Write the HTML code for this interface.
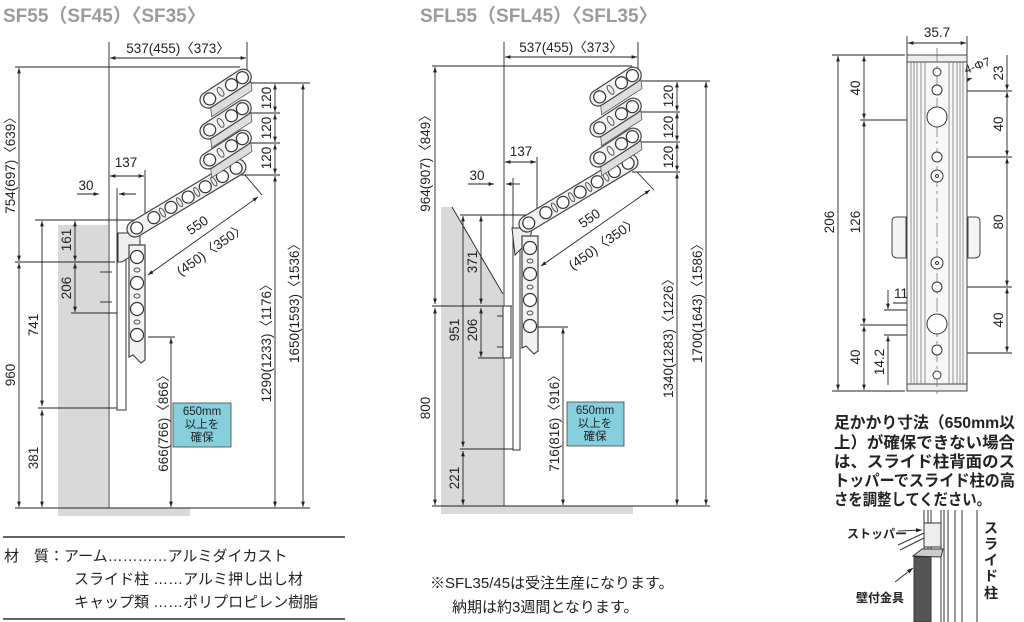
<!DOCTYPE html>
<html><head><meta charset="utf-8"><style>
html,body{margin:0;padding:0;background:#fff;}
svg{display:block;}
text{font-family:"Liberation Sans","Noto Sans CJK JP",sans-serif;fill:#222;}
.t{font-size:13.5px;}
</style></head><body>
<svg width="1024" height="622" viewBox="0 0 1024 622" xmlns="http://www.w3.org/2000/svg">
<defs>
<marker id="a" viewBox="0 0 10 10" refX="10" refY="5" markerWidth="6" markerHeight="6" orient="auto-start-reverse"><path d="M0,1.5 L10,5 L0,8.5z" fill="#222"/></marker>
<g id="rk">
  <path d="M-2,8 L-6,16 L42,16 L46,8z" fill="#ddd" stroke="#555" stroke-width="0.8"/>
  <rect x="-8" y="-8" width="58" height="16" rx="8" fill="#f2f2f2" stroke="#444" stroke-width="1.2"/>
  <circle cx="2" cy="0" r="6" fill="#fff" stroke="#333" stroke-width="1.2"/>
  <ellipse cx="15" cy="0" rx="2.5" ry="5" fill="none" stroke="#555"/>
  <circle cx="28" cy="0" r="6" fill="#fff" stroke="#333" stroke-width="1.2"/>
  <circle cx="41" cy="0" r="6" fill="#fff" stroke="#333" stroke-width="1.2"/>
</g>
<g id="arm">
  <rect x="-8" y="-8" width="136" height="16" rx="8" fill="#f2f2f2" stroke="#444" stroke-width="1.2"/>
  <circle cx="2" cy="0" r="6" fill="#fff" stroke="#333" stroke-width="1.2"/>
  <circle cx="22" cy="0" r="6" fill="#fff" stroke="#333" stroke-width="1.2"/>
  <ellipse cx="32" cy="0" rx="2" ry="5" fill="none" stroke="#555"/>
  <circle cx="42" cy="0" r="6" fill="#fff" stroke="#333" stroke-width="1.2"/>
  <ellipse cx="52" cy="0" rx="2" ry="5" fill="none" stroke="#555"/>
  <circle cx="62" cy="0" r="6" fill="#fff" stroke="#333" stroke-width="1.2"/>
  <ellipse cx="72" cy="0" rx="2" ry="5" fill="none" stroke="#555"/>
  <circle cx="82" cy="0" r="6" fill="#fff" stroke="#333" stroke-width="1.2"/>
  <ellipse cx="92" cy="0" rx="2" ry="5" fill="none" stroke="#555"/>
  <circle cx="102" cy="0" r="6" fill="#fff" stroke="#333" stroke-width="1.2"/>
  <circle cx="118" cy="0" r="6" fill="#fff" stroke="#333" stroke-width="1.2"/>
</g>
<g id="hang">
  <path d="M-8,0 L8,0 L8,115 L4,118 L-4,110 L-8,112z" fill="#f2f2f2" stroke="#444" stroke-width="1.2"/>
  <circle cx="0" cy="12" r="6.5" fill="#fff" stroke="#333" stroke-width="1.2"/>
  <circle cx="0" cy="38" r="6.5" fill="#fff" stroke="#333" stroke-width="1.2"/>
  <circle cx="0" cy="64" r="6.5" fill="#fff" stroke="#333" stroke-width="1.2"/>
  <circle cx="0" cy="90" r="6.5" fill="#fff" stroke="#333" stroke-width="1.2"/>
  <ellipse cx="0" cy="25" rx="3" ry="2" fill="none" stroke="#555"/>
  <ellipse cx="0" cy="51" rx="3" ry="2" fill="none" stroke="#555"/>
  <ellipse cx="0" cy="77" rx="3" ry="2" fill="none" stroke="#555"/>
</g>
</defs>

<!-- ============ LEFT: SF ============ -->
<text x="3" y="22" style="font-size:19px;font-weight:bold;fill:#9a9a9a">SF55（SF45）〈SF35〉</text>
<rect x="58" y="225" width="50" height="283" fill="#d9d9d9"/>
<rect x="58" y="508" width="132" height="8" fill="#d9d9d9"/>
<g stroke="#222" stroke-width="0.9" fill="none">
<line x1="109" y1="42" x2="109" y2="508"/>
<line x1="247" y1="42" x2="247" y2="78"/>
<line x1="110" y1="58" x2="246" y2="58" marker-start="url(#a)" marker-end="url(#a)"/>
<line x1="15" y1="67" x2="240" y2="67"/>
<line x1="19" y1="68" x2="19" y2="261" marker-start="url(#a)" marker-end="url(#a)"/>
<line x1="19" y1="263" x2="19" y2="507" marker-start="url(#a)" marker-end="url(#a)"/>
<line x1="15" y1="262" x2="115" y2="262"/>
<line x1="15" y1="508" x2="310" y2="508"/>
<line x1="35" y1="220" x2="140" y2="220"/>
<line x1="42" y1="221" x2="42" y2="406" marker-start="url(#a)" marker-end="url(#a)"/>
<line x1="42" y1="410" x2="42" y2="507" marker-start="url(#a)" marker-end="url(#a)"/>
<line x1="38" y1="408" x2="126" y2="408"/>
<line x1="75" y1="221" x2="75" y2="261" marker-start="url(#a)" marker-end="url(#a)"/>
<line x1="75" y1="263" x2="75" y2="312" marker-start="url(#a)" marker-end="url(#a)"/>
<line x1="71" y1="313" x2="117" y2="313"/>
<line x1="100" y1="272" x2="112" y2="272"/>
<line x1="100" y1="302" x2="112" y2="302"/>
<line x1="110" y1="176" x2="144" y2="176" marker-start="url(#a)" marker-end="url(#a)"/>
<line x1="145" y1="170" x2="145" y2="225"/>
<line x1="77" y1="194" x2="99" y2="194" marker-end="url(#a)"/>
<line x1="136" y1="194" x2="119" y2="194" marker-end="url(#a)"/>
<line x1="117" y1="188" x2="117" y2="240"/>
<line x1="245" y1="175" x2="262" y2="195"/>
<line x1="148" y1="275" x2="258" y2="197" marker-start="url(#a)" marker-end="url(#a)"/>
<line x1="238" y1="83" x2="310" y2="83"/>
<line x1="240" y1="113" x2="280" y2="113"/>
<line x1="240" y1="143" x2="280" y2="143"/>
<line x1="240" y1="175" x2="280" y2="175"/>
<line x1="275" y1="84" x2="275" y2="112" marker-start="url(#a)" marker-end="url(#a)"/>
<line x1="275" y1="114" x2="275" y2="142" marker-start="url(#a)" marker-end="url(#a)"/>
<line x1="275" y1="144" x2="275" y2="174" marker-start="url(#a)" marker-end="url(#a)"/>
<line x1="275" y1="176" x2="275" y2="507" marker-start="url(#a)" marker-end="url(#a)"/>
<line x1="303" y1="84" x2="303" y2="507" marker-start="url(#a)" marker-end="url(#a)"/>
<line x1="148" y1="337" x2="175" y2="337"/>
<line x1="171" y1="338" x2="171" y2="507" marker-start="url(#a)" marker-end="url(#a)"/>
</g>
<rect x="117" y="233" width="9" height="177" fill="#fff" stroke="#333" stroke-width="1"/>
<path d="M118,233 L140,233 L140,250 L122,262 L118,262z" fill="#eee" stroke="#333"/>
<use href="#hang" x="137" y="245"/>
<use href="#arm" transform="translate(135,229) rotate(-31)"/>
<use href="#rk" transform="translate(208,100) rotate(-33)"/>
<use href="#rk" transform="translate(208,131) rotate(-33)"/>
<use href="#rk" transform="translate(208,161) rotate(-33)"/>
<text class="t" x="178" y="53" text-anchor="middle">537(455)〈373〉</text>
<text class="t" x="126" y="167" text-anchor="middle">137</text>
<text class="t" x="86" y="190" text-anchor="middle">30</text>
<g class="t">
<text transform="translate(15,162) rotate(-90)" text-anchor="middle">754(697)〈639〉</text>
<text transform="translate(15,375) rotate(-90)" text-anchor="middle">960</text>
<text transform="translate(38,325) rotate(-90)" text-anchor="middle">741</text>
<text transform="translate(38,458) rotate(-90)" text-anchor="middle">381</text>
<text transform="translate(71,240) rotate(-90)" text-anchor="middle">161</text>
<text transform="translate(71,288) rotate(-90)" text-anchor="middle">206</text>
<text transform="translate(168,420) rotate(-90)" text-anchor="middle">666(766)〈866〉</text>
<text transform="translate(271,98) rotate(-90)" text-anchor="middle">120</text>
<text transform="translate(271,128) rotate(-90)" text-anchor="middle">120</text>
<text transform="translate(271,158) rotate(-90)" text-anchor="middle">120</text>
<text transform="translate(271,340) rotate(-90)" text-anchor="middle">1290(1233)〈1176〉</text>
<text transform="translate(299,300) rotate(-90)" text-anchor="middle">1650(1593)〈1536〉</text>
<text transform="translate(200,229) rotate(-35)" text-anchor="middle">550</text>
<text transform="translate(214,253) rotate(-35)" text-anchor="middle">(450)〈350〉</text>
</g>
<rect x="173" y="403" width="58" height="44" fill="#86cfdc" stroke="#444" stroke-width="0.8"/>
<text x="202" y="415" text-anchor="middle" style="font-size:11.5px">650mm</text>
<text x="202" y="428" text-anchor="middle" style="font-size:11.5px">以上を</text>
<text x="202" y="441" text-anchor="middle" style="font-size:11.5px">確保</text>

<!-- ============ MIDDLE: SFL ============ -->
<text x="420" y="22" style="font-size:19px;font-weight:bold;fill:#9a9a9a">SFL55（SFL45）〈SFL35〉</text>
<path d="M441,207 L452,207 L503,294 L503,506 L441,506z" fill="#d9d9d9"/>
<rect x="441" y="506" width="192" height="8" fill="#d9d9d9"/>
<g stroke="#222" stroke-width="0.9" fill="none">
<line x1="452" y1="207" x2="503" y2="294"/>
<line x1="504" y1="42" x2="504" y2="506"/>
<line x1="638" y1="42" x2="638" y2="80"/>
<line x1="505" y1="57" x2="637" y2="57" marker-start="url(#a)" marker-end="url(#a)"/>
<line x1="432" y1="66" x2="632" y2="66"/>
<line x1="435" y1="67" x2="435" y2="304" marker-start="url(#a)" marker-end="url(#a)"/>
<line x1="435" y1="308" x2="435" y2="505" marker-start="url(#a)" marker-end="url(#a)"/>
<line x1="432" y1="306" x2="512" y2="306"/>
<line x1="432" y1="506" x2="710" y2="506"/>
<line x1="460" y1="215" x2="530" y2="215"/>
<line x1="463" y1="216" x2="463" y2="447" marker-start="url(#a)" marker-end="url(#a)"/>
<line x1="463" y1="451" x2="463" y2="505" marker-start="url(#a)" marker-end="url(#a)"/>
<line x1="460" y1="449" x2="520" y2="449"/>
<line x1="481" y1="216" x2="481" y2="304" marker-start="url(#a)" marker-end="url(#a)"/>
<line x1="481" y1="308" x2="481" y2="357" marker-start="url(#a)" marker-end="url(#a)"/>
<line x1="478" y1="358" x2="511" y2="358"/>
<line x1="497" y1="316" x2="510" y2="316"/>
<line x1="497" y1="347" x2="510" y2="347"/>
<line x1="505" y1="162" x2="536" y2="162" marker-start="url(#a)" marker-end="url(#a)"/>
<line x1="537" y1="157" x2="537" y2="215"/>
<line x1="468" y1="184" x2="494" y2="184" marker-end="url(#a)"/>
<line x1="520" y1="184" x2="506" y2="184" marker-end="url(#a)"/>
<line x1="513" y1="178" x2="513" y2="228"/>
<line x1="637" y1="172" x2="654" y2="190"/>
<line x1="541" y1="266" x2="650" y2="190" marker-start="url(#a)" marker-end="url(#a)"/>
<line x1="632" y1="81" x2="710" y2="81"/>
<line x1="632" y1="112" x2="680" y2="112"/>
<line x1="632" y1="142" x2="680" y2="142"/>
<line x1="632" y1="172" x2="680" y2="172"/>
<line x1="677" y1="82" x2="677" y2="111" marker-start="url(#a)" marker-end="url(#a)"/>
<line x1="677" y1="113" x2="677" y2="141" marker-start="url(#a)" marker-end="url(#a)"/>
<line x1="677" y1="143" x2="677" y2="171" marker-start="url(#a)" marker-end="url(#a)"/>
<line x1="677" y1="173" x2="677" y2="505" marker-start="url(#a)" marker-end="url(#a)"/>
<line x1="706" y1="82" x2="706" y2="505" marker-start="url(#a)" marker-end="url(#a)"/>
<line x1="535" y1="327" x2="568" y2="327"/>
<line x1="563" y1="328" x2="563" y2="505" marker-start="url(#a)" marker-end="url(#a)"/>
</g>
<rect x="503" y="306" width="8" height="52" fill="#fff" stroke="#333"/>
<rect x="513" y="228" width="7" height="222" fill="#fff" stroke="#333" stroke-width="1"/>
<path d="M512,228 L532,228 L530,240 L515,255z" fill="#eee" stroke="#333"/>
<use href="#hang" x="530" y="236"/>
<use href="#arm" transform="translate(527,224) rotate(-31)"/>
<use href="#rk" transform="translate(598,98) rotate(-33)"/>
<use href="#rk" transform="translate(598,129) rotate(-33)"/>
<use href="#rk" transform="translate(598,159) rotate(-33)"/>
<text class="t" x="571" y="52" text-anchor="middle">537(455)〈373〉</text>
<text class="t" x="521" y="156" text-anchor="middle">137</text>
<text class="t" x="477" y="180" text-anchor="middle">30</text>
<g class="t">
<text transform="translate(430,160) rotate(-90)" text-anchor="middle">964(907)〈849〉</text>
<text transform="translate(430,408) rotate(-90)" text-anchor="middle">800</text>
<text transform="translate(459,330) rotate(-90)" text-anchor="middle">951</text>
<text transform="translate(459,478) rotate(-90)" text-anchor="middle">221</text>
<text transform="translate(477,262) rotate(-90)" text-anchor="middle">371</text>
<text transform="translate(477,330) rotate(-90)" text-anchor="middle">206</text>
<text transform="translate(559,420) rotate(-90)" text-anchor="middle">716(816)〈916〉</text>
<text transform="translate(673,96) rotate(-90)" text-anchor="middle">120</text>
<text transform="translate(673,127) rotate(-90)" text-anchor="middle">120</text>
<text transform="translate(673,157) rotate(-90)" text-anchor="middle">120</text>
<text transform="translate(673,335) rotate(-90)" text-anchor="middle">1340(1283)〈1226〉</text>
<text transform="translate(702,300) rotate(-90)" text-anchor="middle">1700(1643)〈1586〉</text>
<text transform="translate(592,222) rotate(-35)" text-anchor="middle">550</text>
<text transform="translate(606,247) rotate(-35)" text-anchor="middle">(450)〈350〉</text>
</g>
<rect x="567" y="402" width="57" height="44" fill="#86cfdc" stroke="#444" stroke-width="0.8"/>
<text x="595" y="414" text-anchor="middle" style="font-size:11.5px">650mm</text>
<text x="595" y="427" text-anchor="middle" style="font-size:11.5px">以上を</text>
<text x="595" y="440" text-anchor="middle" style="font-size:11.5px">確保</text>

<!-- ============ RIGHT: plate ============ -->
<g stroke="#222" stroke-width="0.9" fill="none">
<line x1="907" y1="36" x2="907" y2="55"/>
<line x1="967" y1="36" x2="967" y2="55"/>
<line x1="908" y1="43" x2="966" y2="43" marker-start="url(#a)" marker-end="url(#a)"/>
<line x1="832" y1="55" x2="905" y2="55"/>
<line x1="832" y1="391" x2="905" y2="391"/>
<line x1="838" y1="56" x2="838" y2="390" marker-start="url(#a)" marker-end="url(#a)"/>
<line x1="864" y1="56" x2="864" y2="119" marker-start="url(#a)" marker-end="url(#a)"/>
<line x1="864" y1="121" x2="864" y2="324" marker-start="url(#a)" marker-end="url(#a)"/>
<line x1="864" y1="326" x2="864" y2="390" marker-start="url(#a)" marker-end="url(#a)"/>
<line x1="860" y1="120" x2="935" y2="120"/>
<line x1="860" y1="325" x2="935" y2="325"/>
<line x1="884" y1="310" x2="930" y2="310"/>
<line x1="884" y1="335" x2="930" y2="335"/>
<line x1="888" y1="290" x2="888" y2="309" marker-end="url(#a)"/>
<line x1="888" y1="385" x2="888" y2="336" marker-end="url(#a)"/>
<line x1="927" y1="300" x2="927" y2="330"/>
<line x1="947" y1="300" x2="947" y2="330"/>
<line x1="893" y1="303" x2="926" y2="303" marker-end="url(#a)"/>
<line x1="965" y1="303" x2="948" y2="303" marker-end="url(#a)"/>
<line x1="940" y1="91" x2="1012" y2="91"/>
<line x1="940" y1="157" x2="1012" y2="157"/>
<line x1="940" y1="287" x2="1012" y2="287"/>
<line x1="940" y1="353" x2="1012" y2="353"/>
<line x1="1007" y1="55" x2="1007" y2="90" marker-end="url(#a)"/>
<line x1="1007" y1="92" x2="1007" y2="156" marker-start="url(#a)" marker-end="url(#a)"/>
<line x1="1007" y1="158" x2="1007" y2="286" marker-start="url(#a)" marker-end="url(#a)"/>
<line x1="1007" y1="288" x2="1007" y2="352" marker-start="url(#a)" marker-end="url(#a)"/>
<line x1="912" y1="101" x2="972" y2="78" marker-end="url(#a)"/>
</g>
<g stroke="#444" fill="#f4f4f4" stroke-width="1">
<path d="M906,217 L896,217 Q892,217 892,222 L892,253 Q892,258 898,258 L906,258z"/>
<path d="M968,217 L976,217 Q980,217 980,222 L980,253 Q980,258 974,258 L968,258z"/>
<rect x="907" y="55" width="60" height="336" fill="#f7f7f7"/>
<rect x="907" y="55" width="60" height="7" fill="#eee"/>
<rect x="907" y="384" width="60" height="7" fill="#eee"/>
</g>
<g stroke="#777" stroke-width="0.8">
<line x1="911" y1="62" x2="911" y2="384"/><line x1="914" y1="62" x2="914" y2="384"/><line x1="917" y1="62" x2="917" y2="384"/><line x1="921" y1="62" x2="921" y2="384"/><line x1="925" y1="62" x2="925" y2="384"/>
<line x1="949" y1="62" x2="949" y2="384"/><line x1="953" y1="62" x2="953" y2="384"/><line x1="957" y1="62" x2="957" y2="384"/><line x1="960" y1="62" x2="960" y2="384"/><line x1="963" y1="62" x2="963" y2="384"/>
<line x1="937" y1="48" x2="937" y2="398" stroke-dasharray="14,4,3,4"/>
</g>
<g fill="#fff" stroke="#333" stroke-width="1">
<circle cx="937" cy="72" r="4"/><circle cx="937" cy="90" r="5"/>
<circle cx="937" cy="117" r="10"/>
<circle cx="937" cy="157" r="5"/><circle cx="937" cy="176" r="6"/><circle cx="937" cy="176" r="1.5"/>
<circle cx="937" cy="263" r="6"/><circle cx="937" cy="263" r="1.5"/>
<circle cx="937" cy="287" r="5"/>
<circle cx="937" cy="324" r="10"/>
<circle cx="937" cy="350" r="5"/><circle cx="937" cy="375" r="4"/>
</g>
<g class="t">
<text x="937" y="37" text-anchor="middle">35.7</text>
<text x="966" y="74" transform="rotate(-20 966 74)" style="font-size:12px">4-Φ7</text>
<text transform="translate(834,222) rotate(-90)" text-anchor="middle">206</text>
<text transform="translate(860,88) rotate(-90)" text-anchor="middle">40</text>
<text transform="translate(860,222) rotate(-90)" text-anchor="middle">126</text>
<text transform="translate(860,357) rotate(-90)" text-anchor="middle">40</text>
<text transform="translate(884,362) rotate(-90)" text-anchor="middle">14.2</text>
<text x="901" y="298" text-anchor="middle">11</text>
<text transform="translate(1003,73) rotate(-90)" text-anchor="middle">23</text>
<text transform="translate(1003,124) rotate(-90)" text-anchor="middle">40</text>
<text transform="translate(1003,222) rotate(-90)" text-anchor="middle">80</text>
<text transform="translate(1003,320) rotate(-90)" text-anchor="middle">40</text>
</g>
<g style="font-size:16px;font-weight:bold">
<text x="834" y="428" textLength="181" lengthAdjust="spacingAndGlyphs">足かかり寸法（650mm以</text>
<text x="834" y="448" textLength="181" lengthAdjust="spacingAndGlyphs">上）が確保できない場合</text>
<text x="834" y="467" textLength="181" lengthAdjust="spacingAndGlyphs">は、スライド柱背面のス</text>
<text x="834" y="486" textLength="181" lengthAdjust="spacingAndGlyphs">トッパーでスライド柱の高</text>
<text x="834" y="505" textLength="157" lengthAdjust="spacingAndGlyphs">さを調整してください。</text>
</g>
<!-- bottom small detail -->
<g stroke="#333" stroke-width="1" fill="none">
<line x1="924" y1="510" x2="924" y2="622"/><line x1="928" y1="510" x2="928" y2="622"/>
<line x1="931" y1="510" x2="931" y2="622"/><line x1="941" y1="510" x2="941" y2="622"/>
<line x1="944" y1="510" x2="944" y2="622"/><line x1="948" y1="510" x2="948" y2="622"/>
<line x1="955" y1="510" x2="955" y2="622"/><line x1="962" y1="510" x2="962" y2="622"/>
<line x1="977" y1="510" x2="977" y2="622"/>
<rect x="924" y="523" width="17" height="24" fill="#eee"/>
<path d="M913,556 L922,549 L943,549 L941,557z" fill="#ccc"/>
<rect x="914" y="557" width="17" height="65" fill="#555"/>
<line x1="898" y1="531" x2="922" y2="530" marker-end="url(#a)"/>
<line x1="895" y1="582" x2="913" y2="568" marker-end="url(#a)"/>
<line x1="898" y1="545" x2="924" y2="533"/><line x1="900" y1="550" x2="924" y2="538"/>
</g>
<text x="847" y="538" style="font-size:12px;font-weight:bold">ストッパー</text>
<text x="856" y="602" style="font-size:12px;font-weight:bold">壁付金具</text>
<g style="font-size:14px;font-weight:bold">
<text x="984" y="533">ス</text><text x="984" y="549">ラ</text><text x="984" y="565">イ</text><text x="984" y="581">ド</text><text x="984" y="598">柱</text>
</g>

<!-- bottom text -->
<line x1="3" y1="537" x2="345" y2="537" stroke="#333" stroke-width="1.5"/>
<line x1="3" y1="619" x2="345" y2="619" stroke="#333" stroke-width="1.5"/>
<g style="font-size:15px">
<text x="4" y="561">材　質：アーム…………アルミダイカスト</text>
<text x="74" y="584">スライド柱 ……アルミ押し出し材</text>
<text x="74" y="607">キャップ類 ……ポリプロピレン樹脂</text>
<text x="430" y="588">※SFL35/45は受注生産になります。</text>
<text x="452" y="612">納期は約3週間となります。</text>
</g>
</svg>
</body></html>
